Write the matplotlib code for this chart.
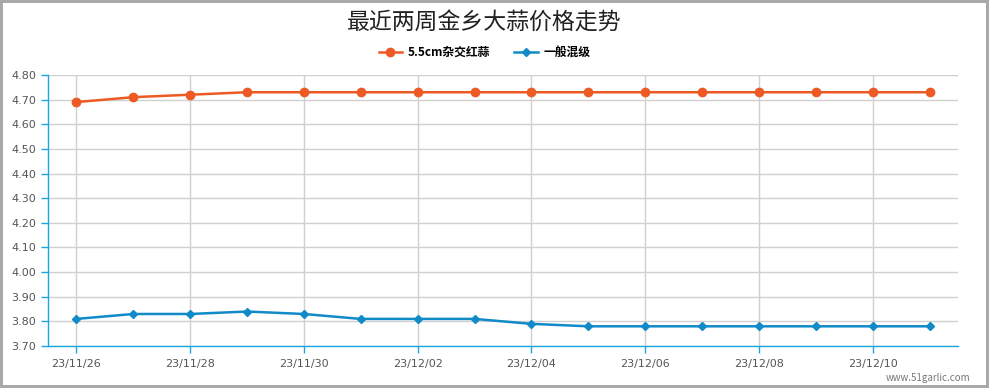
import matplotlib.pyplot as plt
from matplotlib.ticker import FormatStrFormatter

plt.rcParams['font.family'] = ['Noto Sans CJK SC', 'DejaVu Sans']

dates = ["23/11/26", "23/11/27", "23/11/28", "23/11/29", "23/11/30", "23/12/01",
         "23/12/02", "23/12/03", "23/12/04", "23/12/05", "23/12/06", "23/12/07",
         "23/12/08", "23/12/09", "23/12/10", "23/12/11"]
red_garlic = [4.69, 4.71, 4.72, 4.73, 4.73, 4.73, 4.73, 4.73,
              4.73, 4.73, 4.73, 4.73, 4.73, 4.73, 4.73, 4.73]
mixed = [3.81, 3.83, 3.83, 3.84, 3.83, 3.81, 3.81, 3.81,
         3.79, 3.78, 3.78, 3.78, 3.78, 3.78, 3.78, 3.78]

red_c = '#EE5A24'
blue_c = '#118BC8'
axis_c = '#1AA6DE'
grid_c = '#D0D0D0'
txt_c = '#555555'

fig = plt.figure(figsize=(9.89, 3.88), dpi=100)
fig.patch.set_edgecolor('#A8A8A8')
fig.patch.set_linewidth(4)
ax = fig.add_axes([0.0485, 0.1082, 0.9202, 0.6985])

x = list(range(len(dates)))
ax.plot(x, red_garlic, color=red_c, lw=1.8, marker='o', ms=6, label='5.5cm杂交红蒜')
ax.plot(x, mixed, color=blue_c, lw=1.8, marker='D', ms=4.5, label='一般混级')

ax.set_xlim(-0.5, len(dates) - 0.5)
ax.set_ylim(3.70, 4.80)
ax.set_yticks([3.70 + 0.1 * i for i in range(12)])
ax.yaxis.set_major_formatter(FormatStrFormatter('%.2f'))
ax.set_xticks(x[::2])
ax.set_xticklabels(dates[::2])

ax.grid(True, color=grid_c, lw=1)
ax.set_axisbelow(True)
for s in ['top', 'right']:
    ax.spines[s].set_visible(False)
for s in ['left', 'bottom']:
    ax.spines[s].set_color(axis_c)
    ax.spines[s].set_linewidth(1)
ax.tick_params(axis='both', colors=axis_c, labelcolor=txt_c, length=5, width=1)
for lab in ax.get_xticklabels() + ax.get_yticklabels():
    lab.set_family('DejaVu Sans')
    lab.set_fontsize(8)
ax.tick_params(axis='x', pad=4)

fig.text(0.49, 0.94, '最近两周金乡大蒜价格走势', ha='center', va='center',
         fontsize=16.5, color='#222222')
fig.legend(loc='center', bbox_to_anchor=(0.49, 0.865), ncol=2, frameon=False,
           prop={'size': 8.5, 'weight': 'bold'}, handlelength=2,
           columnspacing=2, handletextpad=0.5)
fig.text(0.981, 0.025, 'www.51garlic.com', ha='right', va='center',
         fontsize=7, color='#777777')

fig.savefig('out.png', dpi=100)
